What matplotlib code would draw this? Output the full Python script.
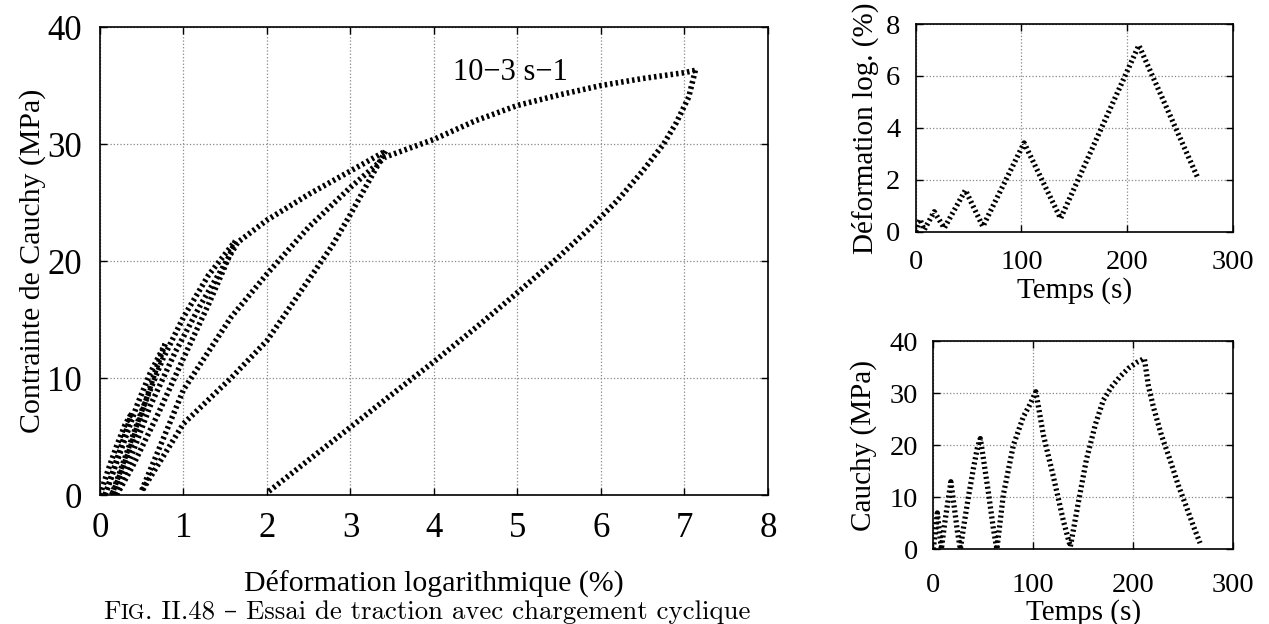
import numpy as np
import matplotlib.pyplot as plt

# stress-strain loops (strain in %, stress in MPa), one list per branch
load1_eps = [0.0, 0.1, 0.2, 0.3, 0.38]
load1_sig = [0.0, 2.2, 4.2, 6.0, 7.0]
unload1_eps = [0.38, 0.3, 0.2, 0.1, 0.06]
unload1_sig = [7.0, 5.2, 3.0, 0.8, 0.0]
load2_eps = [0.06, 0.15, 0.3, 0.45, 0.6, 0.78]
load2_sig = [0.0, 1.8, 4.8, 7.8, 10.4, 12.9]
unload2_eps = [0.78, 0.65, 0.5, 0.35, 0.2, 0.14]
unload2_sig = [12.9, 10.3, 7.0, 3.8, 1.0, 0.0]
load3_eps = [0.14, 0.3, 0.5, 0.75, 1.0, 1.3, 1.62]
load3_sig = [0.0, 3.2, 7.2, 11.6, 15.2, 18.8, 21.7]
unload3_eps = [1.62, 1.5, 1.3, 1.0, 0.7, 0.4, 0.2]
unload3_sig = [21.7, 19.6, 16.3, 11.7, 7.0, 2.6, 0.0]
load4_eps = [0.2, 0.4, 0.6, 0.9, 1.2, 1.45, 1.65, 2.0, 2.5, 3.0, 3.2, 3.42]
load4_sig = [0.0, 3.8, 7.6, 12.2, 16.2, 19.2, 21.6, 23.5, 25.7, 27.7, 28.5, 29.4]
unload4_eps = [3.42, 3.0, 2.78, 2.5, 2.0, 1.57, 1.0, 0.6, 0.5]
unload4_sig = [29.4, 24.0, 21.3, 18.4, 13.2, 10.0, 6.1, 1.5, 0.3]
load5_eps = [0.5, 0.78, 1.0, 1.57, 2.0, 2.5, 3.0, 3.42, 4.0, 4.5, 5.0, 5.5, 6.0, 6.5, 7.0, 7.13]
load5_sig = [0.4, 5.2, 9.0, 15.2, 18.9, 22.9, 26.3, 28.9, 30.4, 32.0, 33.3, 34.2, 35.0, 35.6, 36.1, 36.3]
unload5_eps = [7.13, 7.05, 6.9, 6.75, 6.5, 6.2, 5.85, 5.47, 4.95, 4.5, 4.0, 3.46, 3.0, 2.5, 2.02]
unload5_sig = [36.3, 34.0, 31.8, 30.0, 27.7, 25.2, 22.7, 20.2, 17.0, 14.3, 11.4, 8.4, 5.8, 3.0, 0.3]

# strain vs time (turning points)
t_strain = [0, 4, 8, 17.5, 27, 47, 63.5, 102.5, 137, 211, 267]
strain_t = [0, 0.48, 0.07, 0.77, 0.14, 1.6, 0.2, 3.42, 0.51, 7.18, 2.05]

# stress vs time
t_stress = [0, 2, 4, 6, 8, 11, 14, 16, 17.5, 21, 24, 27, 30, 35, 40, 44, 47,
            50, 55, 60, 63.5, 70, 80, 90, 97, 102.5, 110, 120, 130, 137,
            145, 153, 162, 170, 178, 186.7, 195, 203, 211, 215, 220, 228,
            236.7, 245, 253, 260, 266.7]
stress_t = [0, 3.5, 7, 3.5, 0, 4.5, 8.5, 11, 13, 8, 3.5, 0, 4, 10, 15.5, 19.5, 21.3,
            17.5, 11, 4, 0, 10.5, 20, 25.5, 28, 30.3, 22, 14, 5.5, 0.5,
            9, 17.2, 24, 28.7, 31.2, 33.2, 34.8, 35.9, 36.7, 31.5, 27.4, 22,
            17.2, 12.3, 8.2, 4.5, 1.2]

branches = [(load1_eps, load1_sig), (unload1_eps, unload1_sig),
            (load2_eps, load2_sig), (unload2_eps, unload2_sig),
            (load3_eps, load3_sig), (unload3_eps, unload3_sig),
            (load4_eps, load4_sig), (unload4_eps, unload4_sig),
            (load5_eps, load5_sig), (unload5_eps, unload5_sig)]

plt.rcParams['font.family'] = ['Liberation Serif', 'DejaVu Serif']
plt.rcParams['font.size'] = 21.5

fig = plt.figure(figsize=(12.69, 6.24), dpi=100)

def style_axes(ax, xpad, ypad, size):
    ax.grid(True, linestyle=':', color='#888888', linewidth=0.9)
    ax.tick_params(direction='in', top=True, right=True, length=5, width=1, labelsize=size)
    ax.tick_params(axis='x', pad=xpad)
    ax.tick_params(axis='y', pad=ypad)
    for s in ax.spines.values():
        s.set_linewidth(1.2)

dash = dict(color='black', linewidth=4.0, dashes=(0.45, 0.55), dash_capstyle='butt')

ax = fig.add_axes([0.0788, 0.2067, 0.5264, 0.75])
style_axes(ax, 12, 13, 25)
for eps, sig in branches:
    ax.plot(eps, sig, **dash)
ax.set_xlim(0, 8)
ax.set_ylim(0, 40)
ax.set_xticks(range(0, 9))
ax.set_yticks(range(0, 41, 10))
ax.set_xlabel('Déformation logarithmique (%)', labelpad=18)
ax.set_ylabel('Contrainte de Cauchy (MPa)', labelpad=1)
ax.text(4.23, 36.1, '10\u22123 s\u22121', ha='left', va='center', fontsize=22)

small = dict(color='black', linewidth=3.8, dashes=(0.4, 0.55), dash_capstyle='butt')

ax1 = fig.add_axes([0.7216, 0.6287, 0.25, 0.3328])
style_axes(ax1, 13, 11, 20.5)
ax1.plot(t_strain, strain_t, **small)
ax1.set_xlim(0, 300)
ax1.set_ylim(0, 8)
ax1.set_xticks([0, 100, 200, 300])
ax1.set_yticks([0, 2, 4, 6, 8])
ax1.set_xlabel('Temps (s)', fontsize=21, labelpad=2)
ax1.set_ylabel('Déformation log. (%)', fontsize=21, labelpad=5)

ax2 = fig.add_axes([0.7355, 0.1197, 0.2364, 0.3333])
style_axes(ax2, 17, 11, 20.5)
ax2.plot(t_stress, stress_t, **small)
ax2.set_xlim(0, 300)
ax2.set_ylim(0, 40)
ax2.set_xticks([0, 100, 200, 300])
ax2.set_yticks([0, 10, 20, 30, 40])
ax2.set_xlabel('Temps (s)', fontsize=21, labelpad=1)
ax2.set_ylabel('Cauchy (MPa)', fontsize=21, labelpad=9)

# caption with small caps "FIG."
cap_font = ['cmr10', 'DejaVu Serif']
renderer = fig.canvas.get_renderer()
x0 = 103 / 1269
ybase = 5 / 624
parts = [('F', 19.3), ('IG', 15.4), ('. II.48 \u2013 Essai de traction avec chargement cyclique', 19.3)]
for s, fs in parts:
    t = fig.text(x0, ybase, s, fontsize=fs, family=cap_font, va='baseline')
    x0 += t.get_window_extent(renderer).width / 1269

fig.savefig('out.png', dpi=100)
